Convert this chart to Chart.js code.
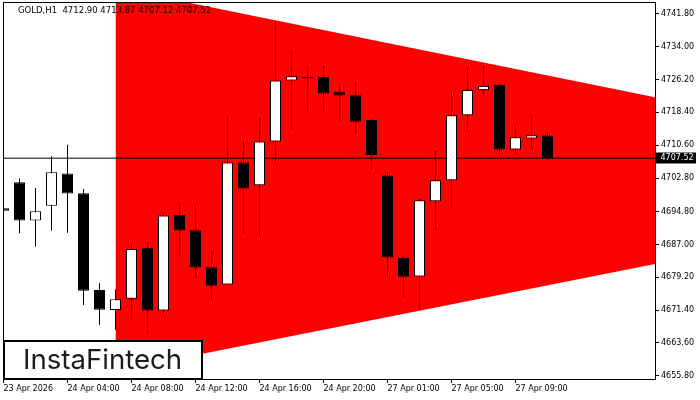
<!DOCTYPE html>
<html>
<head>
<meta charset="utf-8">
<title>GOLD,H1</title>
<script src="https://cdn.jsdelivr.net/npm/chart.js@4.4.1/dist/chart.umd.min.js"></script>
<style>
  html, body { margin: 0; padding: 0; background: #fff; }
  #grafica { display: block; }
</style>
</head>
<body>
<canvas id="grafica" width="700" height="400"></canvas>
<script>
// Velas H1 (indice 0 = primera vela visible)
const openVals  = [4695.6, 4701.8, 4692.7, 4696.2, 4703.9, 4699.2, 4676.2, 4671.4, 4674.1, 4686.2,
                   4671.3, 4694.0, 4690.4, 4681.6, 4677.5, 4706.5, 4701.1, 4711.5, 4726.0, 4726.8,
                   4726.8, 4723.3, 4722.5, 4716.6, 4703.4, 4683.8, 4679.4, 4697.3, 4702.3, 4717.7,
                   4723.7, 4724.9, 4709.6, 4712.2, 4712.90];
const highVals  = [4697.8, 4702.7, 4700.4, 4708.0, 4710.7, 4700.2, 4677.8, 4676.3, 4686.8, 4687.7,
                   4694.7, 4697.1, 4696.4, 4685.7, 4717.1, 4711.4, 4717.1, 4740.0, 4733.2, 4729.4,
                   4729.7, 4724.7, 4725.9, 4716.8, 4704.2, 4684.4, 4697.8, 4709.2, 4723.1, 4729.3,
                   4729.7, 4725.2, 4715.4, 4718.0, 4713.87];
const lowVals   = [4686.2, 4689.7, 4686.5, 4690.3, 4689.8, 4672.6, 4667.9, 4666.7, 4669.0, 4666.0,
                   4670.2, 4684.3, 4678.9, 4674.1, 4677.3, 4689.8, 4689.3, 4706.4, 4714.5, 4718.6,
                   4718.6, 4716.4, 4713.0, 4704.8, 4679.6, 4674.6, 4671.4, 4690.3, 4695.7, 4713.8,
                   4722.4, 4708.1, 4708.8, 4709.6, 4707.12];
const closeVals = [4695.0, 4692.7, 4694.9, 4704.2, 4699.1, 4676.0, 4671.5, 4674.0, 4685.9, 4671.3,
                   4693.9, 4690.3, 4681.5, 4677.2, 4706.5, 4700.3, 4711.5, 4726.0, 4727.0, 4726.5,
                   4722.9, 4722.4, 4716.2, 4708.3, 4683.9, 4679.3, 4697.5, 4702.3, 4717.7, 4723.7,
                   4724.7, 4709.6, 4712.5, 4713.0, 4707.52];

// Etiquetas de los ejes
const xTickIdx    = [0, 4, 8, 12, 16, 20, 24, 28, 32];
const xTickLabels = ['23 Apr 2026', '24 Apr 04:00', '24 Apr 08:00', '24 Apr 12:00', '24 Apr 16:00',
                     '24 Apr 20:00', '27 Apr 01:00', '27 Apr 05:00', '27 Apr 09:00'];
const yTickVals   = [4741.80, 4734.00, 4726.20, 4718.40, 4710.60, 4702.80, 4694.80, 4687.00,
                     4679.20, 4671.40, 4663.60, 4655.80];

// Triangulo (patron): borde superior e inferior
const triX     = [7, 66.7];
const triUpper = [4748.0, 4702.0];
const triLower = [4656.9, 4702.0];

const simbolo = 'GOLD,H1';
const lastIdx = closeVals.length - 1;
const lastClose = closeVals[lastIdx];

const FUENTE = "'DejaVu Sans', sans-serif";

const cuerpos = openVals.map((o, i) => ({ x: i, y: [o, closeVals[i]] }));
const mechas = lowVals.map((l, i) => ({ x: i, y: [l, highVals[i]] }));
const coloresCuerpo = openVals.map((o, i) => closeVals[i] >= o ? '#ffffff' : '#000000');

// Marco, cabecera, etiqueta de precio y logo
const decoracion = {
  id: 'decoracion',
  afterDraw(chart) {
    const ctx = chart.ctx;
    const area = chart.chartArea;
    const yScale = chart.scales.y;
    ctx.save();

    // marco del grafico
    ctx.strokeStyle = '#000';
    ctx.lineWidth = 1;
    ctx.strokeRect(area.left + 0.5, area.top + 0.5, area.right - area.left, area.bottom - area.top);

    // cabecera
    ctx.fillStyle = '#000';
    ctx.font = '8.5px ' + FUENTE;
    ctx.textBaseline = 'middle';
    ctx.textAlign = 'left';
    const ohlc = [openVals[lastIdx], highVals[lastIdx], lowVals[lastIdx], closeVals[lastIdx]]
      .map(v => v.toFixed(2)).join(' ');
    ctx.fillText(simbolo + '  ' + ohlc, 18, 11);

    // etiqueta del precio actual
    const yp = yScale.getPixelForValue(lastClose);
    ctx.fillStyle = '#000';
    ctx.fillRect(area.right, Math.round(yp) - 5.5, 41, 11);
    ctx.fillStyle = '#fff';
    ctx.font = '8px ' + FUENTE;
    ctx.fillText(lastClose.toFixed(2), area.right + 5.5, yp);

    // logo
    ctx.fillStyle = '#fff';
    ctx.fillRect(area.left, 340, 199, area.bottom - 340);
    ctx.strokeStyle = '#000';
    ctx.lineWidth = 2;
    ctx.strokeRect(area.left + 1, 341, 198, area.bottom - 341);
    ctx.fillStyle = '#1c1c1c';
    ctx.font = "26px Inter, 'Open Sans', sans-serif";
    const w = ctx.measureText('InstaFintech').width;
    const size = 26 * 159 / w;
    ctx.font = size.toFixed(1) + "px Inter, 'Open Sans', sans-serif";
    ctx.textBaseline = 'alphabetic';
    ctx.fillText('InstaFintech', 23, 369);

    ctx.restore();
  }
};

const ctx = document.getElementById('grafica').getContext('2d');
const grafica = new Chart(ctx, {
  type: 'bar',
  data: {
    datasets: [
      {
        label: 'cuerpos',
        data: cuerpos,
        backgroundColor: coloresCuerpo,
        borderColor: '#000',
        borderWidth: 1,
        borderSkipped: false,
        barThickness: 11,
        grouped: false,
        inflateAmount: 0
      },
      {
        label: 'mechas',
        data: mechas,
        backgroundColor: '#000',
        borderWidth: 0,
        barThickness: 1,
        grouped: false,
        inflateAmount: 0
      },
      {
        type: 'line',
        label: 'precio',
        data: [{ x: -1, y: lastClose }, { x: 45, y: lastClose }],
        borderColor: '#000',
        borderWidth: 1,
        pointRadius: 0,
        fill: false
      },
      {
        type: 'line',
        label: 'triSup',
        data: triX.map((x, i) => ({ x: x, y: triUpper[i] })),
        borderColor: 'rgba(0,0,0,0)',
        borderWidth: 0,
        pointRadius: 0,
        fill: false
      },
      {
        type: 'line',
        label: 'triInf',
        data: triX.map((x, i) => ({ x: x, y: triLower[i] })),
        borderColor: 'rgba(0,0,0,0)',
        borderWidth: 0,
        pointRadius: 0,
        backgroundColor: '#ff0000',
        fill: '-1'
      }
    ]
  },
  options: {
    responsive: false,
    animation: false,
    events: [],
    layout: { padding: { left: 3, top: 2, right: 0, bottom: 0 } },
    plugins: {
      legend: { display: false },
      tooltip: { enabled: false }
    },
    scales: {
      x: {
        type: 'linear',
        offset: false,
        min: -0.03125,
        max: 40.71875,
        afterBuildTicks: (scale) => { scale.ticks = xTickIdx.map(v => ({ value: v })); },
        afterFit: (scale) => {
          scale.height = 21;
          scale.paddingLeft = 0;
          scale.paddingRight = 0;
        },
        grid: { offset: false, drawOnChartArea: false, drawTicks: true, tickLength: 4, color: '#000' },
        border: { display: true, color: '#000', width: 1 },
        ticks: {
          autoSkip: false,
          maxRotation: 0,
          align: 'start',
          padding: 1,
          color: '#000',
          font: { family: FUENTE, size: 8 },
          callback: (value, index) => xTickLabels[index]
        }
      },
      y: {
        position: 'right',
        min: 4655.02,
        max: 4744.65,
        afterBuildTicks: (scale) => { scale.ticks = yTickVals.map(v => ({ value: v })); },
        afterFit: (scale) => {
          scale.width = 45;
          scale.paddingTop = 0;
          scale.paddingBottom = 0;
        },
        grid: { drawOnChartArea: false, drawTicks: true, tickLength: 4, color: '#000' },
        border: { display: true, color: '#000', width: 1 },
        ticks: {
          padding: 2,
          color: '#000',
          font: { family: FUENTE, size: 8 },
          callback: (value) => Number(value).toFixed(2)
        }
      }
    }
  },
  plugins: [decoracion]
});
</script>
</body>
</html>
